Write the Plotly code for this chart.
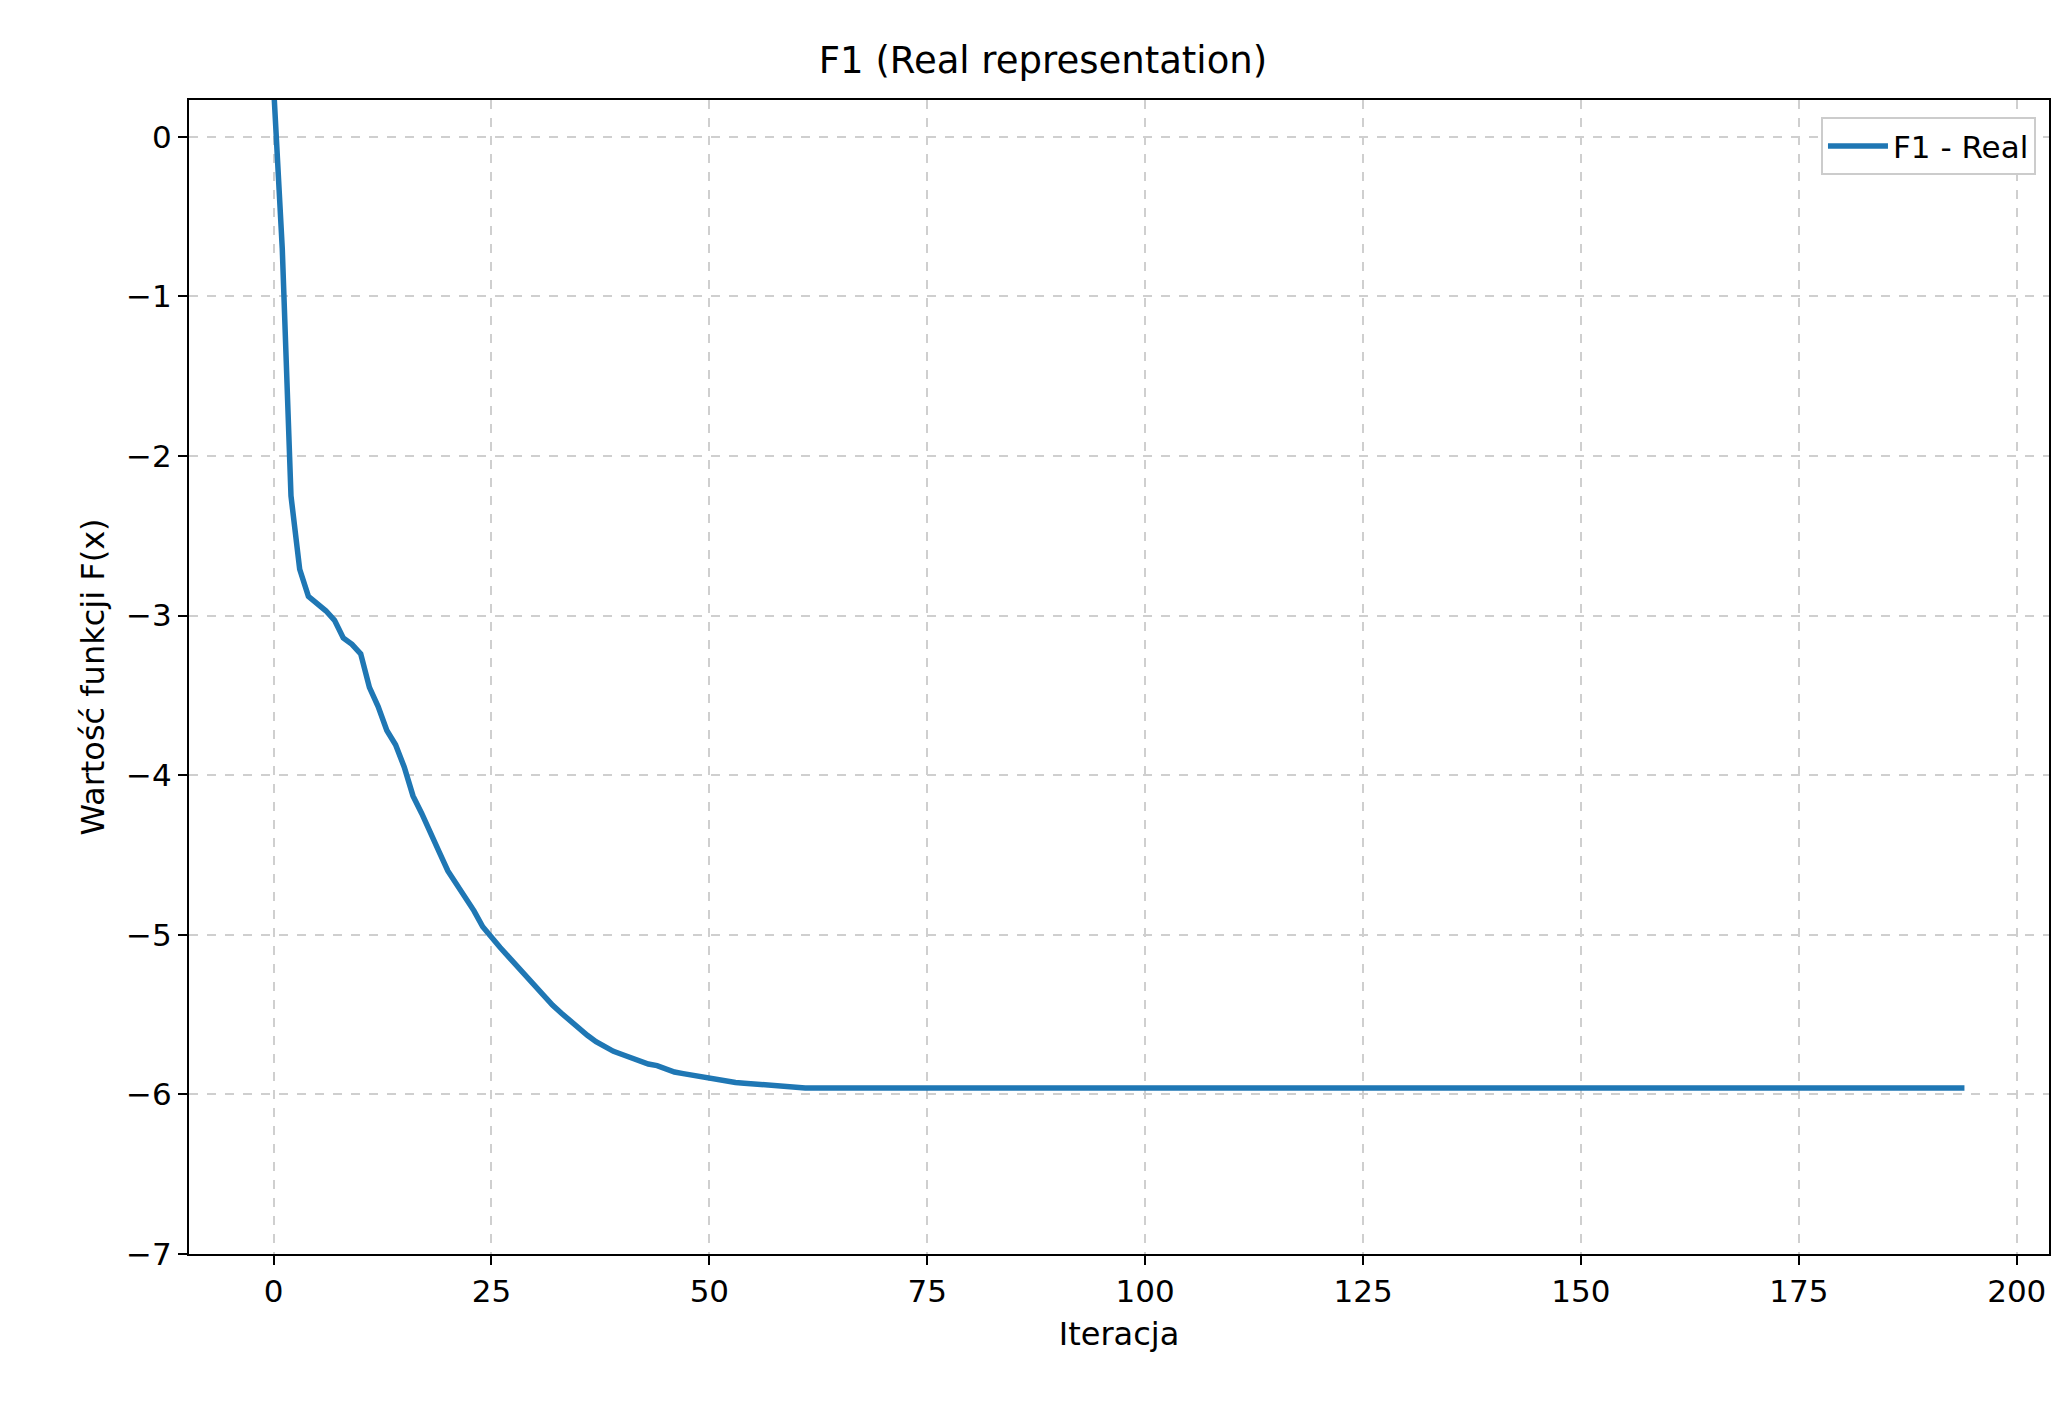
import plotly.graph_objects as go

# values
iters_head = list(range(0, 61))
vals_head = [0.32, -0.70, -2.25, -2.71, -2.88, -2.92, -2.97, -3.03, -3.14, -3.18,
             -3.24, -3.45, -3.57, -3.72, -3.81, -3.95, -4.13, -4.24, -4.37, -4.48,
             -4.60, -4.68, -4.77, -4.85, -4.95, -5.02, -5.08, -5.14, -5.20, -5.27,
             -5.33, -5.38, -5.44, -5.49, -5.54, -5.59, -5.63, -5.67, -5.70, -5.73,
             -5.75, -5.77, -5.79, -5.81, -5.82, -5.84, -5.86, -5.87, -5.88, -5.89,
             -5.90, -5.91, -5.92, -5.925, -5.93, -5.935, -5.94, -5.945, -5.95, -5.955,
             -5.96]
iters_tail = list(range(61, 195))
vals_tail = [-5.96] * len(iters_tail)

x = iters_head + iters_tail
y = vals_head + vals_tail

font = "DejaVu Sans"
fig = go.Figure()
fig.add_trace(go.Scatter(x=x, y=y, mode="lines", name="F1 - Real",
                         line=dict(color="#1f77b4", width=5.5)))

axis = dict(showline=True, linecolor="black", linewidth=2, mirror=True,
            ticks="outside", ticklen=9, tickwidth=2, tickcolor="black",
            showgrid=True, gridcolor="#cfcfcf", griddash="dash", gridwidth=2,
            zeroline=False, tickfont=dict(size=31, color="black", family=font))

fig.update_layout(
    width=2070, height=1407,
    plot_bgcolor="white", paper_bgcolor="white",
    margin=dict(l=181, r=29, t=92, b=161),
    title=dict(text="F1 (Real representation)", x=0.5, xanchor="center",
               y=0.972, font=dict(size=37, color="black", family=font)),
    xaxis=dict(axis, range=[-9.7, 203.7], tickvals=[0, 25, 50, 75, 100, 125, 150, 175, 200],
               title=dict(text="Iteracja", standoff=14,
                          font=dict(size=32, color="black", family=font))),
    yaxis=dict(axis, range=[-7, 0.23], tickvals=[0, -1, -2, -3, -4, -5, -6, -7],
               ticktext=["0", "−1", "−2", "−3", "−4", "−5", "−6", "−7"],
               title=dict(text="Wartość funkcji F(x)", standoff=12,
                          font=dict(size=32, color="black", family=font))),
    showlegend=True,
    legend=dict(x=0.993, y=0.985, xanchor="right", yanchor="top",
                bordercolor="#cccccc", borderwidth=2, bgcolor="white",
                itemwidth=60, font=dict(size=31, color="black", family=font)),
)
fig.write_html("out.html")
